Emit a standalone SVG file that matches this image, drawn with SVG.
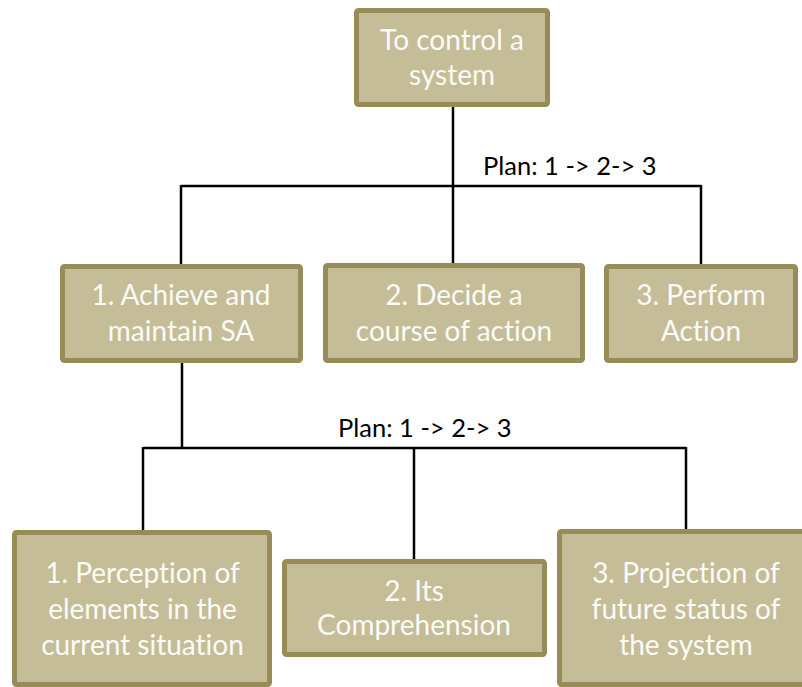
<svg xmlns="http://www.w3.org/2000/svg" width="802" height="687" viewBox="0 0 802 687">
<style>
.box{fill:#c4bd97;stroke:#978c57;stroke-width:5}
.t{font-family:Lato,"Liberation Sans",sans-serif;font-size:28px;fill:#fbfbf7;text-anchor:middle;font-variant-ligatures:none}
.plan{font-family:Lato,"Liberation Sans",sans-serif;font-size:25.5px;fill:#000;font-variant-ligatures:none}
.c line{stroke:#000;stroke-width:2.5}
</style>
<rect width="802" height="687" fill="#fff"/>
<g class="c" id="connectors">
<line x1="453" y1="107" x2="453" y2="264"/>
<line x1="181" y1="186" x2="701" y2="186"/>
<line x1="181" y1="185" x2="181" y2="264"/>
<line x1="701" y1="185" x2="701" y2="264"/>
<line x1="182" y1="363" x2="182" y2="448"/>
<line x1="143" y1="448" x2="686" y2="448"/>
<line x1="143" y1="447" x2="143" y2="530"/>
<line x1="414" y1="447" x2="414" y2="559"/>
<line x1="686" y1="447" x2="686" y2="529"/>
</g>
<text class="plan" x="483" y="175">Plan: 1 -&gt; 2-&gt; 3</text>
<text class="plan" x="338" y="437">Plan: 1 -&gt; 2-&gt; 3</text>
<g id="root">
<rect class="box" x="356.5" y="10.5" width="191" height="94" rx="2"/>
<text class="t" x="452" y="50">To control a</text>
<text class="t" x="452" y="85">system</text>
</g>
<g id="n1">
<rect class="box" x="62.5" y="266.5" width="238" height="94" rx="2"/>
<text class="t" x="181" y="305">1. Achieve and</text>
<text class="t" x="181" y="341">maintain SA</text>
</g>
<g id="n2">
<rect class="box" x="325.5" y="265.5" width="257" height="95" rx="2"/>
<text class="t" x="454" y="305">2. Decide a</text>
<text class="t" x="454" y="341">course of action</text>
</g>
<g id="n3">
<rect class="box" x="606.5" y="266.5" width="189" height="94" rx="2"/>
<text class="t" x="701" y="305">3. Perform</text>
<text class="t" x="701" y="341">Action</text>
</g>
<g id="n11">
<rect class="box" x="14.5" y="532.5" width="255" height="152" rx="2"/>
<text class="t" x="142.5" y="583">1. Perception of</text>
<text class="t" x="142.5" y="619">elements in the</text>
<text class="t" x="142.5" y="655">current situation</text>
</g>
<g id="n12">
<rect class="box" x="284.5" y="561.5" width="260" height="93" rx="2"/>
<text class="t" x="414" y="601">2. Its</text>
<text class="t" x="414" y="635">Comprehension</text>
</g>
<g id="n13">
<rect class="box" x="559.5" y="531.5" width="250" height="153" rx="2"/>
<text class="t" x="686" y="583">3. Projection of</text>
<text class="t" x="686" y="619">future status of</text>
<text class="t" x="686" y="655">the system</text>
</g>
</svg>
